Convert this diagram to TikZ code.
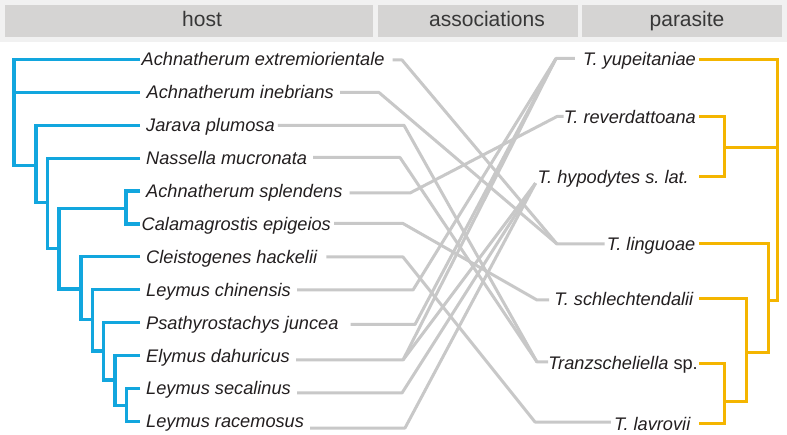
\documentclass[tikz,border=0pt]{standalone}
\usepackage{fontspec}
\setmainfont{Liberation Sans}
\definecolor{hostblue}{RGB}{18,166,222}
\definecolor{parayellow}{RGB}{244,181,0}
\definecolor{assocgrey}{RGB}{200,200,200}
\definecolor{headbg}{RGB}{241,241,241}
\definecolor{headbox}{RGB}{213,212,211}
\definecolor{headtext}{RGB}{55,55,55}
\definecolor{labeltext}{RGB}{35,31,32}
\begin{document}
\frenchspacing
\begin{tikzpicture}[x=1pt,y=-1pt,
  hostline/.style={draw=hostblue,line width=3.2pt,line join=miter},
  paraline/.style={draw=parayellow,line width=3pt,line join=miter},
  assoc/.style={draw=assocgrey,line width=3pt,line join=round},
  taxon/.style={inner sep=0pt,text height=13pt,text depth=0pt,font=\fontsize{18.2pt}{20pt}\selectfont\itshape\frenchspacing,text=labeltext},
  hostlab/.style={taxon,anchor=west},
  paralab/.style={taxon,anchor=east},
  headlab/.style={font=\fontsize{21pt}{24pt}\selectfont,text=headtext,inner sep=0pt,anchor=base}]

\useasboundingbox (0,0) rectangle (787,435);
\fill[white] (0,0) rectangle (787,435);
\fill[headbg] (0,0) rectangle (787,42);
\fill[headbox] (5,5) rectangle (373,37);
\fill[headbox] (378,5) rectangle (578,37);
\fill[headbox] (582,5) rectangle (782,37);
\node[headlab] (hhost) at (202,27) {host};
\node[headlab] (hassoc) at (487,27) {associations};
\node[headlab] (hpara) at (687,27) {parasite};

% host labels
\node[hostlab] (h1) at (141.5,59.5) {Achnatherum extremiorientale};
\node[hostlab] (h2) at (146.5,92.4) {Achnatherum inebrians};
\node[hostlab] (h3) at (146,125.3) {Jarava plumosa};
\node[hostlab] (h4) at (146,158.2) {Nassella mucronata};
\node[hostlab] (h5) at (146,191.1) {Achnatherum splendens};
\node[hostlab] (h6) at (141.5,224) {Calamagrostis epigeios};
\node[hostlab] (h7) at (146,256.9) {Cleistogenes hackelii};
\node[hostlab] (h8) at (146,289.8) {Leymus chinensis};
\node[hostlab] (h9) at (146,322.7) {Psathyrostachys juncea};
\node[hostlab] (h10) at (146,355.6) {Elymus dahuricus};
\node[hostlab] (h11) at (146,388.5) {Leymus secalinus};
\node[hostlab] (h12) at (146,421.4) {Leymus racemosus};

% parasite labels
\node[paralab] (p1) at (696,59.3) {T. yupeitaniae};
\node[paralab] (p2) at (696,116.7) {T. reverdattoana};
\node[paralab] (p3) at (689,176.7) {T. hypodytes s. lat.};
\node[paralab] (p4) at (695.5,244) {T. linguoae};
\node[paralab] (p5) at (693.5,299) {T. schlechtendalii};
\node[paralab] (p6) at (698,363) {Tranzscheliella {\upshape sp.}};
\node[paralab] (p7) at (690.5,423.5) {T. lavrovii};

% association bends
\coordinate (b1) at (402,60);
\coordinate (b2) at (379,92.5);
\coordinate (b3) at (404,125.3);
\coordinate (b4) at (400,157.5);
\coordinate (b5) at (410,193);
\coordinate (b6) at (403,223.5);
\coordinate (b7) at (403,257);
\coordinate (b8) at (413,290);
\coordinate (b9) at (415,324.5);
\coordinate (b10) at (403,360);
\coordinate (b11) at (402,393);
\coordinate (b12) at (405,428);
\coordinate (q1) at (556,58.5);
\coordinate (q2) at (557,116.5);
\coordinate (q4) at (557,244);
\coordinate (q5) at (537,300);
\coordinate (q6) at (537,362);
\coordinate (q7) at (535,422);

\draw[assoc] ([xshift=8pt]h1.east |- b1) -- (b1) -- (q4) -- ([xshift=-2pt]p4.west |- q4);
\draw[assoc] ([xshift=6pt]h2.east |- b2) -- (b2) -- (q4);
\draw[assoc] ([xshift=3pt]h3.east |- b3) -- (b3) -- (q6) -- (p6.west |- q6);
\draw[assoc] ([xshift=6pt]h4.east |- b4) -- (b4) -- (q6);
\draw[assoc] ([xshift=7pt]h5.east |- b5) -- (b5) -- (q2) -- (p2.west |- q2);
\draw[assoc] ([xshift=3pt]h6.east |- b6) -- (b6) -- (q5) -- ([xshift=-5pt]p5.west |- q5);
\draw[assoc] ([xshift=9pt]h7.east |- b7) -- (b7) -- (q7) -- ([xshift=-3pt]p7.west |- q7);
\draw[assoc] ([xshift=6pt]h8.east |- b8) -- (b8) -- (q1) -- ([xshift=-8pt]p1.west |- q1);
\draw[assoc] ([xshift=12pt]h9.east |- b9) -- (b9) -- (q1);
\draw[assoc] ([xshift=6pt]h10.east |- b10) -- (b10) -- (q1);
\draw[assoc] (b10) -- ([xshift=-2pt,yshift=-6.5pt]p3.west);
\draw[assoc] ([xshift=6pt]h11.east |- b11) -- (b11) -- ([xshift=-2pt,yshift=-6.5pt]p3.west);
\draw[assoc] ([xshift=6pt]h12.east |- b12) -- (b12) -- ([xshift=-2pt,yshift=-6.5pt]p3.west);

% host tree
\draw[hostline] (140,59.5) -- (14,59.5) -- (14,165.7) -- (36,165.7);
\draw[hostline] (14,92.4) -- (140,92.4);
\draw[hostline] (140,125.3) -- (36,125.3) -- (36,202.3) -- (47.7,202.3);
\draw[hostline] (140,158.2) -- (47.7,158.2) -- (47.7,248.3) -- (59,248.3);
\draw[hostline] (126,208.3) -- (59,208.3) -- (59,289) -- (81,289);
\draw[hostline] (140,191.1) -- (126,191.1) -- (126,224) -- (140,224);
\draw[hostline] (140,256.9) -- (81,256.9) -- (81,319.3) -- (92.3,319.3);
\draw[hostline] (140,289.8) -- (92.3,289.8) -- (92.3,351) -- (103.7,351);
\draw[hostline] (140,322.7) -- (103.7,322.7) -- (103.7,380) -- (115,380);
\draw[hostline] (140,355.6) -- (115,355.6) -- (115,405.7) -- (126.7,405.7);
\draw[hostline] (140,388.5) -- (126.7,388.5) -- (126.7,421.4) -- (140,421.4);

% parasite tree
\draw[paraline] (699,59.3) -- (777.7,59.3) -- (777.7,300.7) -- (768.3,300.7);
\draw[paraline] (777.7,147.3) -- (724,147.3);
\draw[paraline] (699,116.7) -- (724,116.7) -- (724,176.7) -- (699,176.7);
\draw[paraline] (699,244) -- (768.3,244) -- (768.3,352.7) -- (746.7,352.7);
\draw[paraline] (699,299) -- (746.7,299) -- (746.7,401) -- (724,401);
\draw[paraline] (699,363.5) -- (724,363.5) -- (724,423.5) -- (699,423.5);
\end{tikzpicture}
\end{document}
